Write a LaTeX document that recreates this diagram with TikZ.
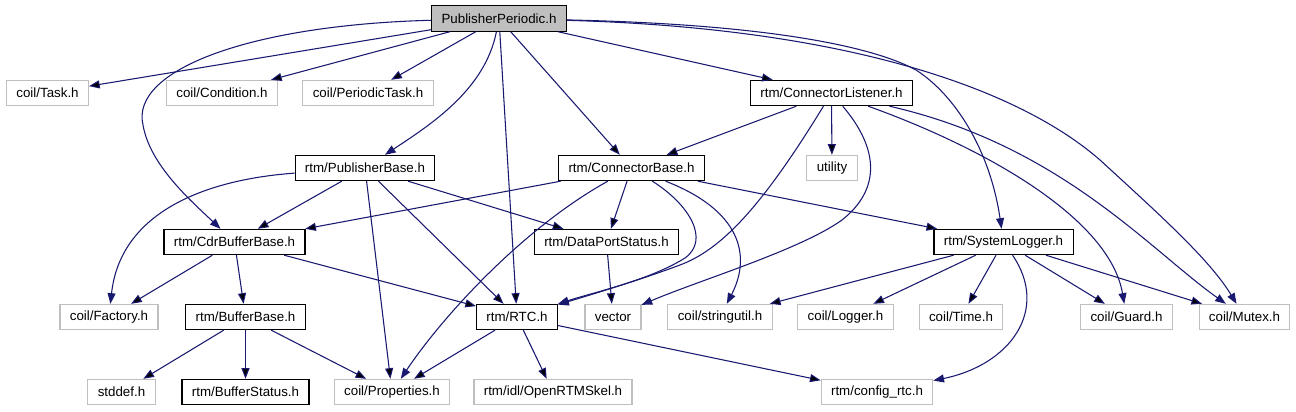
\documentclass[tikz,border=0pt]{standalone}
\usepackage{fontspec}
\setmainfont{Liberation Sans}
\usepackage{tikz}
\usetikzlibrary{arrows.meta}

\definecolor{edgeblue}{HTML}{191970}
\definecolor{extgray}{HTML}{BFBFBF}

\tikzset{
 file/.style={rectangle, inner xsep=7.4pt, inner ysep=0pt, minimum height=19pt,
  line width=0.8pt, font=\fontsize{10pt}{12pt}\selectfont},
 doc/.style={file, draw=black},
 ext/.style={file, draw=extgray},
 link/.style={->, draw=edgeblue, line width=0.8pt}
}

\begin{document}
\begin{tikzpicture}[x=0.75pt,y=-0.75pt,>={Triangle[length=8pt,width=6pt]}]
 \useasboundingbox (0,0) rectangle (1296,411);

 % top
 \node[doc,fill=extgray] (pp) at (499,18.5) {PublisherPeriodic.h};

 \node[ext] (task) at (47.5,93) {coil/Task.h};
 \node[ext] (cond) at (222,93) {coil/Condition.h};
 \node[ext] (ptask) at (368,93) {coil/PeriodicTask.h};
 \node[doc] (clis) at (831.5,93) {rtm/ConnectorListener.h};

 \node[doc] (pbase) at (365,168) {rtm/PublisherBase.h};
 \node[doc] (cbase) at (631.5,168) {rtm/ConnectorBase.h};
 \node[ext] (util) at (832,168) {utility};

 \node[doc] (cdr) at (234.5,242) {rtm/CdrBufferBase.h};
 \node[doc] (dps) at (606.5,242) {rtm/DataPortStatus.h};
 \node[doc] (slog) at (1003.5,242) {rtm/SystemLogger.h};

 \node[ext] (factory) at (109,317) {coil/Factory.h};
 \node[doc] (bbase) at (245.5,317) {rtm/BufferBase.h};
 \node[doc] (rtc) at (517,317) {rtm/RTC.h};
 \node[ext] (vector) at (613,317) {vector};
 \node[ext] (strutil) at (720,317) {coil/stringutil.h};
 \node[ext] (logger) at (845.5,317) {coil/Logger.h};
 \node[ext] (time) at (961,317) {coil/Time.h};
 \node[ext] (guard) at (1126.5,317) {coil/Guard.h};
 \node[ext] (mutex) at (1244.5,317) {coil/Mutex.h};

 \node[ext] (stddef) at (121.5,392) {stddef.h};
 \node[doc] (bstat) at (245.5,392) {rtm/BufferStatus.h};
 \node[ext] (props) at (392,392) {coil/Properties.h};
 \node[ext] (skel) at (553,392) {rtm/idl/OpenRTMSkel.h};
 \node[ext] (cfg) at (877,392) {rtm/config\_rtc.h};

 % PublisherPeriodic.h
 \path[link] (pp)
 edge (task)
 edge (cond)
 edge (ptask)
 edge (rtc)
 edge (cbase)
 edge (clis);
 \draw[link] (pp) .. controls (485,90) and (430,125) .. (pbase);
 \draw[link] (pp) .. controls (250,25) and (130,70) .. (143,125)
  .. controls (150,165) and (190,200) .. (cdr);
 \draw[link] (pp) .. controls (760,24) and (870,45) .. (916,70)
  .. controls (955,95) and (990,150) .. (slog);
 \draw[link] (pp) .. controls (850,28) and (1020,90) .. (1100,160)
  .. controls (1160,215) and (1210,260) .. (mutex);

 % ConnectorListener.h
 \path[link] (clis)
 edge (cbase)
 edge (util);
 \draw[link] (clis) .. controls (760,210) and (720,250) .. (680,265)
  .. controls (640,280) and (590,295) .. (rtc);
 \draw[link] (clis) .. controls (880,150) and (880,190) .. (842,220)
  .. controls (800,250) and (700,280) .. (vector);
 \draw[link] (clis) .. controls (990,150) and (1110,220) .. (guard);
 \draw[link] (clis) .. controls (1060,145) and (1150,250) .. (mutex);

 % ConnectorBase.h
 \path[link] (cbase)
 edge (cdr)
 edge (dps)
 edge (slog);
 \draw[link] (cbase) .. controls (520,230) and (440,320) .. (props);
 \draw[link] (cbase) .. controls (690,205) and (710,240) .. (685,258)
  .. controls (650,280) and (595,292) .. (rtc);
 \draw[link] (cbase) .. controls (740,210) and (752,255) .. (strutil);

 % PublisherBase.h
 \path[link] (pbase)
 edge (cdr)
 edge (props)
 edge (rtc)
 edge (dps);
 \draw[link] (pbase) .. controls (200,180) and (120,215) .. (factory);

 \path[link] (cdr)
 edge (factory)
 edge (bbase)
 edge (rtc);
 \path[link] (dps) edge (vector);

 % SystemLogger.h
 \path[link] (slog)
 edge (strutil)
 edge (logger)
 edge (time)
 edge (guard)
 edge (mutex);
 \draw[link] (slog) .. controls (1050,310) and (1010,365) .. (cfg);

 \path[link] (bbase)
 edge (stddef)
 edge (bstat)
 edge (props);
 \path[link] (rtc)
 edge (props)
 edge (skel)
 edge (cfg);
\end{tikzpicture}
\end{document}
